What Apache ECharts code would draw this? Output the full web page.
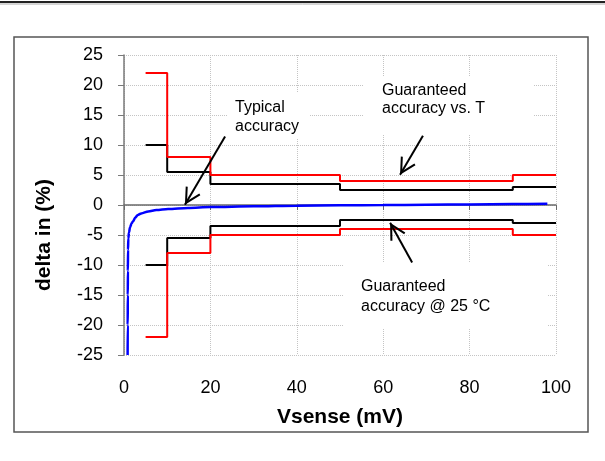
<!DOCTYPE html>
<html>
<head>
<meta charset="utf-8">
<script src="https://cdn.jsdelivr.net/npm/echarts@6/dist/echarts.min.js"></script>
<style>
html,body{margin:0;padding:0;background:#fff;}
#chart{width:605px;height:461px;}
</style>
</head>
<body>
<div id="chart"></div>
<script>
// ---- data ----
var xTicks = [0, 20, 40, 60, 80, 100];
var yTicks = [-25, -20, -15, -10, -5, 0, 5, 10, 15, 20, 25];

// step limits: value holds from this Vsense up to the next one
var stepVsense      = [5, 10, 20, 50, 90, 100];
var tempLimitUpper  = [22, 8, 5, 4, 5, 5];
var tempLimitLower  = [-22, -8, -5, -4, -5, -5];
var roomLimitUpper  = [10, 5.5, 3.5, 2.5, 3, 3];
var roomLimitLower  = [-10, -5.5, -3.5, -2.5, -3, -3];

// typical accuracy curve
var typicalVsense = [0.84, 0.86, 0.88, 0.9, 0.93, 1.0, 1.15, 1.4, 1.8, 2.1, 2.6, 3.2, 4, 5.6, 7.5, 10.2, 14.8, 20, 30, 40, 50, 60, 70, 80, 90, 98];
var typicalDelta  = [-25, -20, -15, -11, -7.5, -5.6, -4.6, -3.7, -3.0, -2.7, -2.1, -1.65, -1.4, -1.07, -0.85, -0.67, -0.5, -0.35, -0.22, -0.12, -0.06, -0.02, 0.04, 0.1, 0.15, 0.2];

// annotation arrows: [fromX, fromY, toX, toY] in data units
var arrowTypical = [23.4, 11.4, 14.1, 0.05];
var arrowTemp    = [69.2, 11.55, 63.9, 5.05];
var arrowRoom    = [66.7, -9.6, 61.6, -2.95];

var labelTypical = 'Typical\naccuracy';
var labelTemp    = 'Guaranteed\naccuracy vs. T';
var labelRoom    = 'Guaranteed\naccuracy @ 25 °C';
var xName = 'Vsense (mV)';
var yName = 'delta in (%)';

// ---- build ----
function zip(xs, ys) { return xs.map(function (x, i) { return [x, ys[i]]; }); }
function arrow(a) { return [{ coord: [a[0], a[1]] }, { coord: [a[2], a[3]] }]; }

var FONT = '"Liberation Sans", Arial, sans-serif';
var chevron = 'path://M0,0 L8.5,16 L6.7,16.9 L0,4.3 L-6.7,16.9 L-8.5,16 Z M0,-16.9 L0.05,-16.9 L0,-16.85 Z';

var chart = echarts.init(document.getElementById('chart'), null, { renderer: 'canvas' });
var option = {
  animation: false,
  backgroundColor: '#fff',
  textStyle: { fontFamily: FONT },
  grid: { left: 124, right: 49, top: 55, bottom: 106, containLabel: false },
  xAxis: [
    {
      type: 'value', min: xTicks[0], max: xTicks[xTicks.length - 1], interval: 20,
      position: 'bottom',
      axisLine: { show: true, onZero: true, lineStyle: { color: '#6a6a6a', width: 1.5 } },
      axisTick: { show: true, length: 5, lineStyle: { color: '#6a6a6a', width: 1 } },
      axisLabel: { show: false },
      splitLine: { show: true, lineStyle: { color: '#c4c4c4', type: 'dotted', width: 1 } }
    },
    {
      type: 'value', min: xTicks[0], max: xTicks[xTicks.length - 1], interval: 20,
      position: 'bottom',
      axisLine: { show: false, onZero: false },
      axisTick: { show: false },
      splitLine: { show: false },
      axisLabel: { show: true, margin: 24, fontSize: 18, color: '#000', fontFamily: FONT },
      name: xName, nameLocation: 'middle', nameGap: 52,
      nameTextStyle: { fontSize: 21, fontWeight: 'bold', color: '#000', fontFamily: FONT }
    }
  ],
  yAxis: {
    type: 'value', min: yTicks[0], max: yTicks[yTicks.length - 1], interval: 5,
    axisLine: { show: true, onZero: false, lineStyle: { color: '#7a7a7a', width: 1.5 } },
    axisTick: { show: true, inside: false, length: 6, lineStyle: { color: '#7a7a7a', width: 1 } },
    axisLabel: { margin: 21, fontSize: 18, color: '#000', fontFamily: FONT },
    splitLine: { show: true, lineStyle: { color: '#c4c4c4', type: 'dotted', width: 1 } }
  },
  graphic: [
    { type: 'rect', z: 0, silent: true, shape: { x: 0, y: 1, width: 605, height: 2 }, style: { fill: '#222' } },
    { type: 'line', z: 0, silent: true, shape: { x1: 0, y1: 4, x2: 605, y2: 4 }, style: { stroke: '#aaa', lineWidth: 1 } },
    { type: 'rect', z: 0, silent: true, shape: { x: 14, y: 37, width: 574, height: 395 }, style: { fill: 'none', stroke: '#555', lineWidth: 1.5 } },
    { type: 'text', z: 1, silent: true, x: 228, y: 93,
      style: { text: labelTypical, font: '16px ' + FONT, fill: '#000', lineHeight: 19, backgroundColor: '#fff', padding: [5, 11, 2, 7], align: 'left', verticalAlign: 'top' } },
    { type: 'text', z: 1, silent: true, x: 363, y: 77,
      style: { text: labelTemp, font: '16px ' + FONT, fill: '#000', lineHeight: 18.5, backgroundColor: '#fff', padding: [4, 48, 17, 19], align: 'left', verticalAlign: 'top' } },
    { type: 'text', z: 1, silent: true, x: 343, y: 263,
      style: { text: labelRoom, font: '16px ' + FONT, fill: '#000', lineHeight: 20, backgroundColor: '#fff', padding: [14, 57, 11, 18], align: 'left', verticalAlign: 'top' } },
    { type: 'text', z: 1, silent: true, x: 44, y: 235, rotation: Math.PI / 2,
      style: { text: yName, font: 'bold 21px ' + FONT, fill: '#000', align: 'center', verticalAlign: 'middle' } }
  ],
  series: [
    {
      name: 'Guaranteed accuracy @ 25 °C (upper)', type: 'line', step: 'end', symbol: 'none', z: 3,
      data: zip(stepVsense, roomLimitUpper),
      lineStyle: { color: '#000', width: 2 },
      markLine: {
        silent: true, symbol: ['none', chevron], symbolSize: [17, 33.8],
        label: { show: false },
        lineStyle: { color: '#000', width: 2, type: 'solid' },
        emphasis: { disabled: true },
        data: [arrow(arrowTypical), arrow(arrowTemp), arrow(arrowRoom)]
      }
    },
    {
      name: 'Guaranteed accuracy @ 25 °C (lower)', type: 'line', step: 'end', symbol: 'none', z: 3,
      data: zip(stepVsense, roomLimitLower),
      lineStyle: { color: '#000', width: 2 }
    },
    {
      name: 'Guaranteed accuracy vs. T (upper)', type: 'line', step: 'end', symbol: 'none', z: 4,
      data: zip(stepVsense, tempLimitUpper),
      lineStyle: { color: '#ff0000', width: 2 }
    },
    {
      name: 'Guaranteed accuracy vs. T (lower)', type: 'line', step: 'end', symbol: 'none', z: 4,
      data: zip(stepVsense, tempLimitLower),
      lineStyle: { color: '#ff0000', width: 2 }
    },
    {
      name: 'Typical accuracy', type: 'line', symbol: 'none', z: 5,
      smooth: 0.3, smoothMonotone: 'x',
      data: zip(typicalVsense, typicalDelta),
      lineStyle: { color: '#0000ff', width: 2.5 }
    }
  ]
};
chart.setOption(option);
</script>
</body>
</html>
